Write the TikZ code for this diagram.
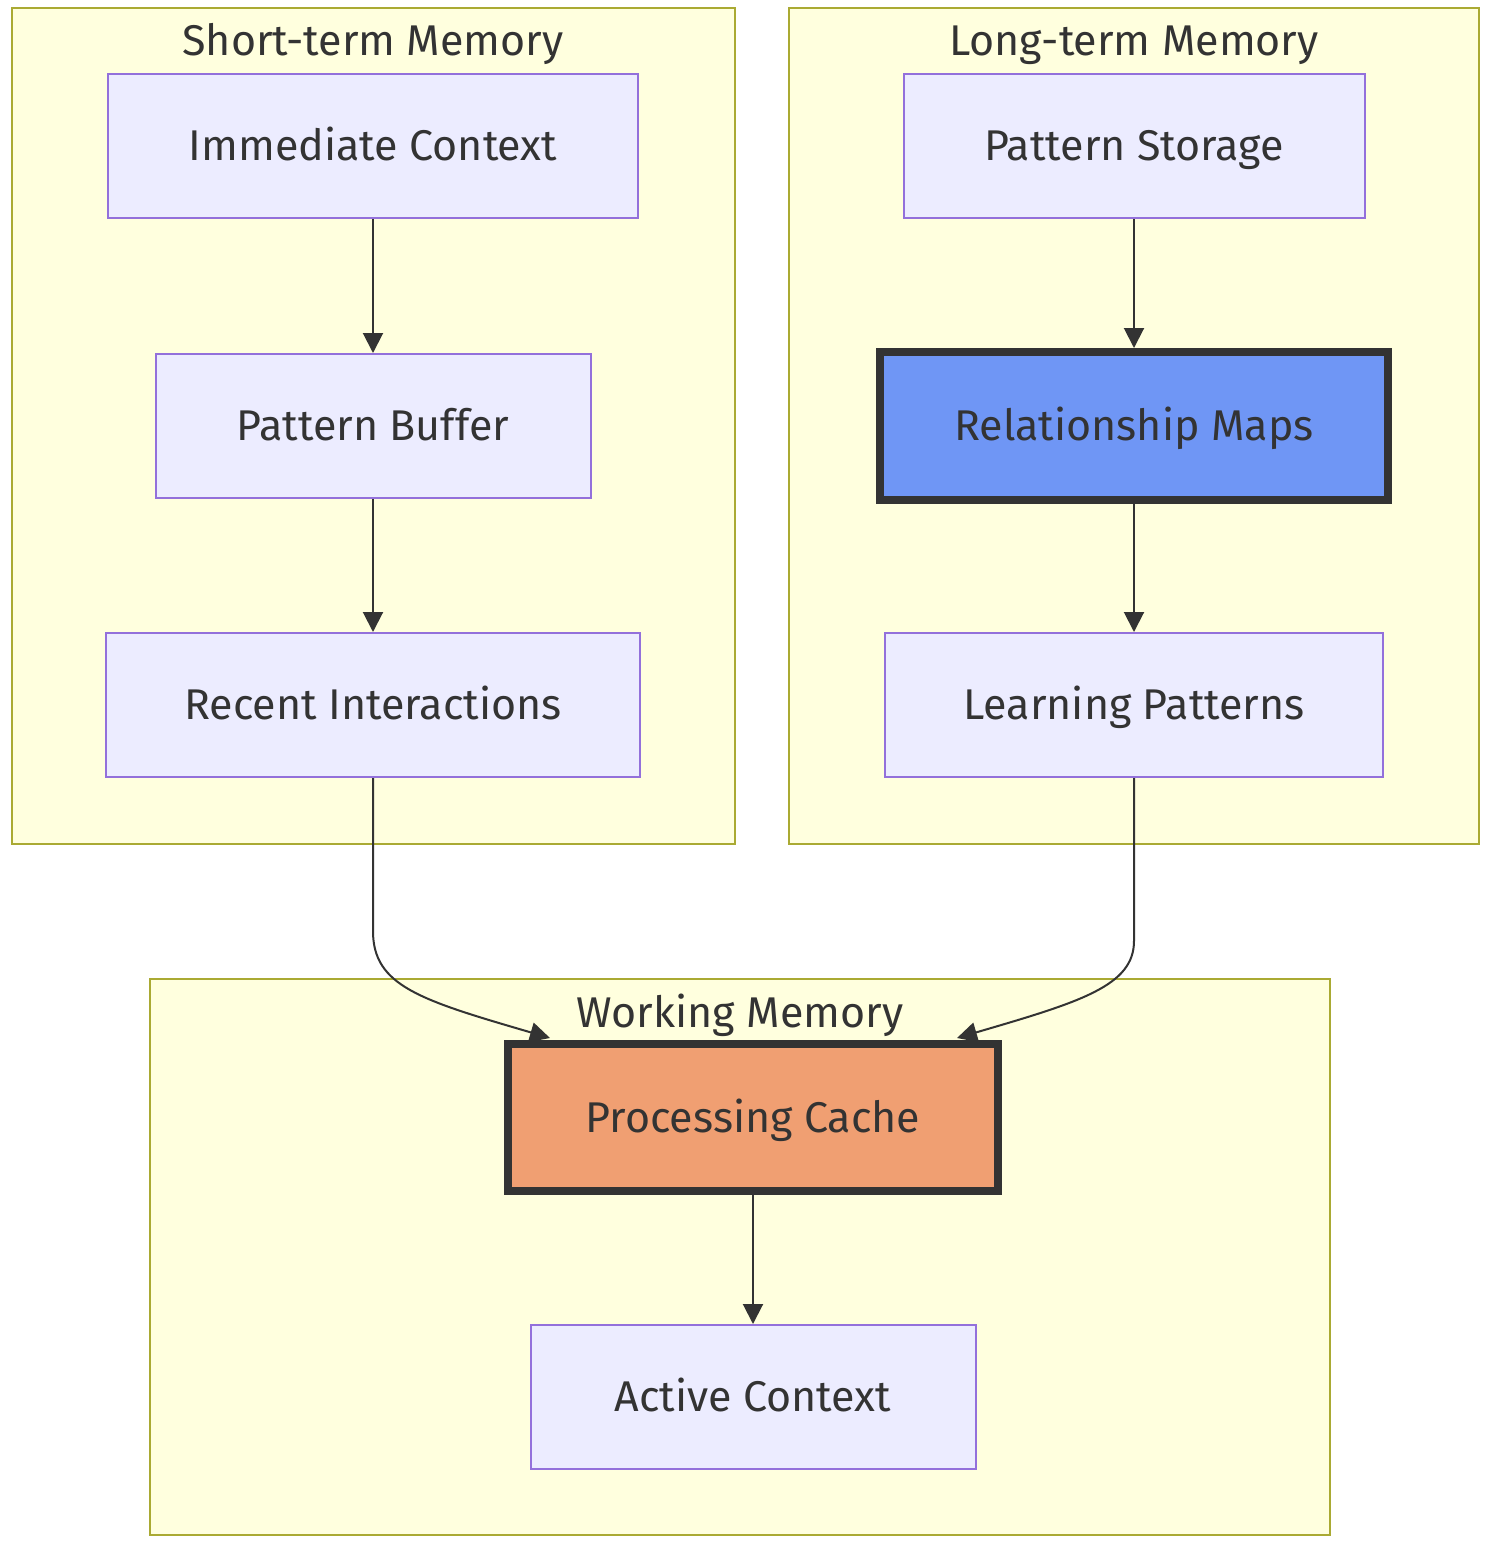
\documentclass[tikz,border=0pt]{standalone}
\usepackage{fontspec}
\setmainfont{Fira Sans}
\usetikzlibrary{arrows.meta,calc}

\definecolor{clfill}{HTML}{FFFFDE}
\definecolor{cldraw}{HTML}{AAAA33}
\definecolor{ndfill}{HTML}{ECECFF}
\definecolor{nddraw}{HTML}{9370DB}
\definecolor{ink}{HTML}{333333}
\definecolor{mapblue}{HTML}{6F96F5}
\definecolor{cacheorange}{HTML}{F09F72}

\tikzset{
  memgroup/.style={draw=cldraw, fill=clfill, line width=1pt},
  grouptitle/.style={text=ink, text height=14.8pt, text depth=0pt,
    font=\fontsize{21.5}{26}\selectfont},
  memnode/.style={draw=nddraw, fill=ndfill, line width=1pt, text=ink,
    minimum height=72pt, inner xsep=0pt, text height=14.8pt, text depth=0pt,
    font=\fontsize{21.5}{26}\selectfont},
  hotnode/.style={memnode, draw=ink, line width=4pt},
  flow/.style={draw=ink, line width=1pt, -{Triangle[length=10pt,width=10pt]}}
}

\begin{document}
\begin{tikzpicture}[x=0.5pt, y=-0.5pt]
  \useasboundingbox (0,0) rectangle (1494,1544);

  % Clusters
  \draw[memgroup] (12,8) rectangle (735,844);
  \draw[memgroup] (789,8) rectangle (1479,844);
  \draw[memgroup] (150,979) rectangle (1330,1535);
  \node[grouptitle] (stm) at (373,41) {Short-term Memory};
  \node[grouptitle] (ltm) at (1134,41) {Long-term Memory};
  \node[grouptitle] (wm) at (740,1013) {Working Memory};

  % Short-term nodes
  \node[memnode, minimum width=265pt] (ic) at (373,146) {Immediate Context};
  \node[memnode, minimum width=217.5pt] (pb) at (373,426) {Pattern Buffer};
  \node[memnode, minimum width=267pt] (ri) at (373,705) {Recent Interactions};

  % Long-term nodes
  \node[memnode, minimum width=230.5pt] (ps) at (1134,146) {Pattern Storage};
  \node[hotnode, fill=mapblue, minimum width=254pt, minimum height=74pt] (rm) at (1134,426) {Relationship Maps};
  \node[memnode, minimum width=249pt] (lp) at (1134,705) {Learning Patterns};

  % Working nodes
  \node[hotnode, fill=cacheorange, minimum width=245pt, minimum height=73.5pt] (pc) at (753,1117.5) {Processing Cache};
  \node[memnode, minimum width=222.5pt] (ac) at (753,1397) {Active Context};

  % Edges
  \draw[flow] (ic) -- (pb);
  \draw[flow] (pb) -- (ri);
  \draw[flow] (ps) -- (rm);
  \draw[flow] (rm) -- (lp);
  \draw[flow] (pc) -- (ac);
  \draw[flow] (ri.south) -- ++(0,153) .. controls +(0,55) and (420,1000) .. ($(pc.north)+(-203,-2)$);
  \draw[flow] (lp.south) -- ++(0,163) .. controls +(0,45) and (1080,1002) .. ($(pc.north)+(204,-2)$);
\end{tikzpicture}
\end{document}
